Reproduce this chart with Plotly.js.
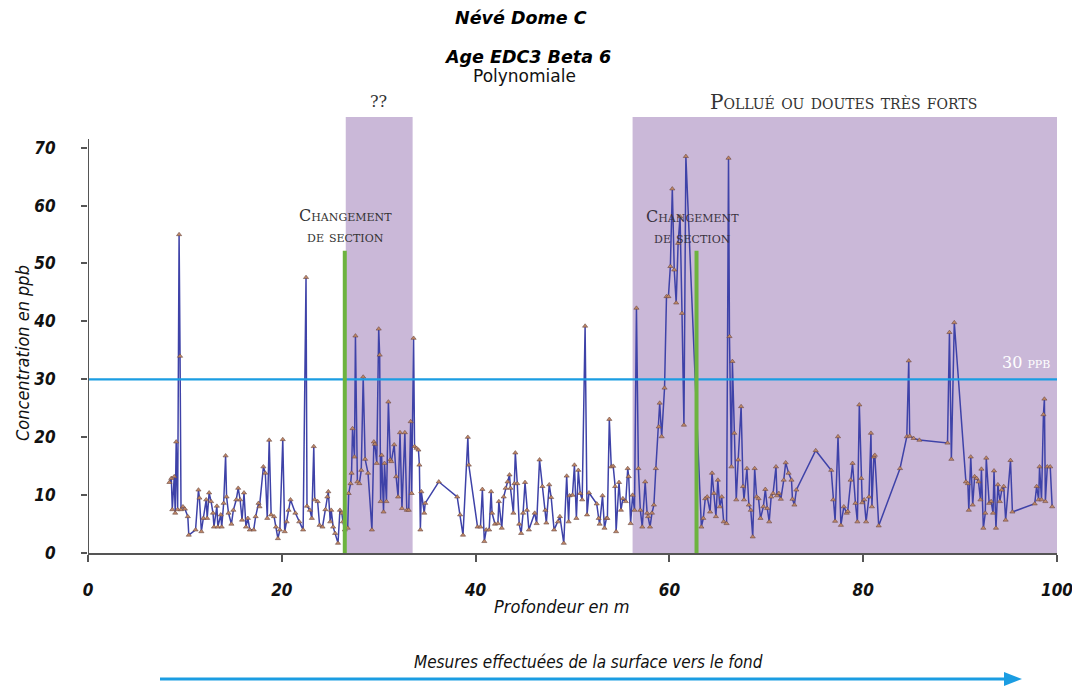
<!DOCTYPE html>
<html>
<head>
<meta charset="utf-8">
<script src="https://cdn.plot.ly/plotly-3.0.1.min.js"></script>
<style>html,body{margin:0;padding:0;background:#fff;}#chart{width:1072px;height:686px;}</style>
</head>
<body>
<div id="chart"></div>
<script>
// Depth (m)
const depth = [
8.4,8.6,8.7,8.9,9.0,9.1,9.25,9.4,9.5,9.6,9.8,10.0,10.3,10.4,11.1,11.4,11.5,11.7,11.9,12.2,
12.3,12.5,12.7,12.9,13.0,13.3,13.4,13.7,13.8,14.0,14.2,14.3,14.5,14.8,15.0,15.3,15.5,15.7,15.9,16.1,
16.3,16.5,16.7,17.1,17.3,17.6,17.7,18.1,18.3,18.5,18.7,18.9,19.2,19.4,19.6,19.8,20.1,20.3,20.5,20.7,
20.9,21.4,21.8,22.2,22.5,22.6,22.9,23.1,23.3,23.4,23.7,23.9,24.2,24.5,24.7,24.8,25.0,25.1,25.3,25.5,
25.8,26.0,26.2,26.3,26.5,26.8,26.9,27.1,27.2,27.3,27.5,27.6,27.8,28.0,28.2,28.4,28.6,28.9,29.3,29.5,
29.6,29.8,30.0,30.1,30.2,30.3,30.5,30.6,30.8,31.0,31.2,31.3,31.6,31.8,32.0,32.2,32.4,32.7,32.9,33.1,
33.3,33.4,33.6,33.7,33.9,34.1,34.2,34.3,34.4,34.7,34.8,36.2,38.1,38.4,38.7,39.2,39.3,40.2,40.5,40.7,
40.9,41.1,41.4,41.6,41.7,42.0,42.3,42.4,42.7,42.9,43.1,43.3,43.5,43.6,43.9,44.0,44.1,44.3,44.5,44.7,
44.9,45.1,45.3,45.5,46.1,46.3,46.6,46.9,47.2,47.3,47.6,47.8,48.1,48.5,48.7,49.1,49.4,49.6,49.7,50.0,
50.2,50.4,50.6,50.8,51.0,51.3,51.5,51.7,52.5,52.7,52.8,53.1,53.3,53.5,53.6,53.8,54.0,54.2,54.4,54.5,
54.8,55.0,55.2,55.5,55.7,55.8,56.0,56.2,56.4,56.6,56.8,57.0,57.2,57.5,57.7,57.8,58.0,58.2,58.4,58.6,
58.9,59.0,59.2,59.5,59.7,59.9,60.1,60.3,60.5,60.7,60.9,61.1,61.3,61.5,61.7,63.3,63.5,63.7,63.9,64.2,
64.4,64.6,64.8,65.0,65.2,65.4,65.6,65.9,66.1,66.2,66.4,66.5,66.7,66.9,67.1,67.4,67.6,67.7,68.0,68.2,
68.4,68.6,68.8,69.0,69.2,69.4,69.7,69.9,70.1,70.3,70.5,70.7,71.0,71.1,71.3,71.5,71.8,72.0,72.3,72.6,
72.7,72.9,73.1,75.1,76.7,76.9,77.1,77.4,77.7,78.0,78.3,78.4,78.7,78.9,79.2,79.4,79.6,79.8,79.9,80.1,
80.3,80.6,80.8,80.9,81.1,81.2,81.6,83.8,84.5,84.7,84.8,85.2,85.8,88.7,88.9,89.1,89.4,90.6,90.8,90.9,
91.1,91.3,91.5,91.7,91.9,92.1,92.2,92.4,92.6,92.7,93.0,93.2,93.4,93.5,93.7,93.9,94.1,94.3,94.5,94.7,
95.2,95.4,97.7,97.9,98.1,98.2,98.4,98.6,98.7,98.8,99.0,99.3,99.5
];
// Concentration (ppb)
const conc = [
12.2,12.9,7.5,13.2,6.9,19.2,7.5,55.0,34.0,7.5,8.0,7.6,6.3,3.1,4.0,10.9,9.5,3.7,6.0,9.2,
6.0,10.4,8.9,6.9,4.5,8.1,4.5,6.6,4.5,8.6,16.8,9.7,6.9,5.0,7.4,9.2,11.2,9.2,5.7,10.4,
4.5,6.0,4.0,4.0,6.3,8.6,8.0,14.9,13.8,6.0,19.5,6.6,6.3,4.5,2.5,4.0,19.6,3.7,5.4,7.4,
9.2,6.9,5.4,4.0,47.6,8.1,7.4,6.0,18.4,9.2,8.9,4.8,4.5,7.5,9.7,10.6,5.4,7.4,4.5,3.4,
1.7,7.4,6.9,5.4,4.0,4.3,10.3,12.0,13.8,21.5,16.6,37.5,12.3,12.0,14.3,30.4,16.2,13.8,4.0,19.2,
18.8,15.5,38.7,34.2,8.9,16.9,7.1,15.5,8.9,26.1,16.1,15.8,18.7,13.2,9.7,20.8,7.7,20.8,7.4,7.4,
22.7,10.3,37.1,18.4,18.1,17.8,15.2,4.0,10.6,6.9,8.6,12.3,9.7,6.6,3.1,20.0,15.2,4.5,4.5,11.0,
2.0,4.0,4.0,10.6,6.9,5.0,5.1,8.9,4.3,9.7,11.2,12.3,13.5,11.2,6.9,12.0,17.3,12.0,5.0,3.4,
6.9,12.2,7.4,4.0,6.9,5.1,16.1,11.5,7.4,5.2,11.8,9.6,4.0,5.4,6.3,1.7,13.3,5.4,9.9,10.0,
15.2,6.0,14.3,10.3,9.2,39.2,6.6,10.4,8.5,6.0,5.0,9.9,4.3,6.0,6.0,23.1,14.9,15.0,11.5,3.7,
12.2,7.4,9.4,8.9,14.6,13.2,5.1,10.0,7.4,42.3,14.6,7.4,4.5,12.3,6.9,6.3,4.5,6.9,8.3,14.6,
21.8,25.9,20.1,28.5,44.3,44.3,49.5,62.9,48.9,43.2,53.5,58.1,41.4,22.1,68.5,4.5,6.0,9.4,9.7,7.1,
13.8,10.3,6.3,12.6,8.0,9.7,5.4,5.1,68.2,37.4,14.9,33.1,20.7,9.2,16.1,25.3,11.5,9.2,14.6,8.3,
7.4,2.8,14.6,9.7,9.4,6.0,8.0,11.0,7.7,5.4,9.7,10.3,14.9,9.9,10.3,9.3,12.6,15.6,13.8,12.6,
9.3,8.3,10.9,17.7,14.3,9.2,5.5,20.1,4.8,8.0,6.9,7.2,12.6,15.5,8.6,5.4,25.6,12.9,8.7,9.2,
5.4,9.7,20.7,8.0,16.6,16.9,4.7,14.6,20.1,33.2,20.2,19.8,19.5,19.0,38.1,16.2,39.8,12.3,12.0,7.4,
16.6,8.3,13.2,12.9,12.3,9.2,14.5,4.3,6.9,16.4,8.6,8.9,6.9,14.2,4.3,11.8,8.9,10.9,11.5,5.7,
16.0,7.1,8.5,11.5,9.2,14.9,9.2,23.9,26.6,8.9,14.9,14.9,8.0
];

const xTicks = [0, 20, 40, 60, 80, 100];
const yTicks = [0, 10, 20, 30, 40, 50, 60, 70];
const threshold = 30;
const shadedZones = [[26.6, 33.5], [56.2, 100]];
const sectionChanges = [26.5, 62.8];

const narrow = '"Liberation Sans Narrow", "DejaVu Sans Condensed", sans-serif';
const tickFont = {family: narrow, size: 17, weight: 'bold', style: 'italic', color: '#111'};
const capFamily = '"DejaVu Serif", "Liberation Serif", serif';

const shapes = [];
shadedZones.forEach(z => shapes.push({type: 'rect', xref: 'x', yref: 'y', x0: z[0], x1: z[1], y0: 0, y1: 75.3, fillcolor: '#cab8d8', line: {width: 0}, layer: 'below'}));
shapes.push({type: 'line', xref: 'x', yref: 'y', x0: 0, x1: 100, y0: threshold, y1: threshold, line: {color: '#1b9de2', width: 2.2}, layer: 'above'});
sectionChanges.forEach(s => shapes.push({type: 'line', xref: 'x', yref: 'y', x0: s, x1: s, y0: 0, y1: 52.2, line: {color: '#6db33f', width: 4}, layer: 'above'}));
shapes.push({type: 'line', xref: 'x', yref: 'y', x0: 0, x1: 0, y0: 0, y1: 71.5, line: {color: '#555', width: 2}, layer: 'above'});

const px = v => (v - 88) / 969;
const py = v => (553 - v) / 436;

// bottom arrow
shapes.push({type: 'line', xref: 'paper', yref: 'paper', x0: px(160), x1: px(1008), y0: py(679), y1: py(679), line: {color: '#1b9de2', width: 3}});
shapes.push({type: 'path', xref: 'paper', yref: 'paper',
  path: 'M ' + px(1022) + ' ' + py(679) + ' L ' + px(1004) + ' ' + py(672) + ' L ' + px(1004) + ' ' + py(686) + ' Z',
  fillcolor: '#1b9de2', line: {width: 0}});

function ann(text, x, y, font, extra) {
  return Object.assign({text: text, x: px(x), y: py(y), xref: 'paper', yref: 'paper', showarrow: false,
    xanchor: 'center', yanchor: 'middle', font: font}, extra || {});
}

const titleFont = {family: '"DejaVu Sans", Verdana, sans-serif', size: 17.5, weight: 'bold', style: 'italic', color: '#000'};
const annotations = [
  ann('Névé Dome C', 521, 18, titleFont),
  ann('Age EDC3 Beta 6', 527, 57, titleFont),
  ann('Polynomiale', 524, 76, {family: '"DejaVu Sans", sans-serif', size: 17, color: '#111'}),
  ann('??', 378, 102, {family: capFamily, size: 16, variant: 'small-caps', color: '#333'}),
  ann('Pollué ou doutes très forts', 843, 102, {family: capFamily, size: 20, variant: 'small-caps', color: '#333'}),
  ann('Changement<br>de section', 345, 226, {family: capFamily, size: 16, variant: 'small-caps', color: '#333'}),
  ann('Changement<br>de section', 692, 227, {family: capFamily, size: 16, variant: 'small-caps', color: '#3a3340'}),
  ann('30 ppb', 1026, 362, {family: capFamily, size: 16, variant: 'small-caps', color: '#ffffff'}),
  ann('Profondeur en m', 562, 606, {family: narrow, size: 18, style: 'italic', color: '#111'}),
  ann('Concentration en ppb', 22, 353, {family: narrow, size: 18, style: 'italic', color: '#111'}, {textangle: -90}),
  ann('Mesures effectuées de la surface vers le fond', 588, 662, {family: narrow, size: 17, style: 'italic', color: '#111'})
];

const trace = {
  x: depth, y: conc, type: 'scatter', mode: 'lines+markers',
  line: {color: '#3e42a8', width: 1.5},
  marker: {symbol: 'triangle-up', size: 4.5, color: '#c08866', line: {color: '#6b4a44', width: 0.6}},
  hoverinfo: 'x+y'
};

const layout = {
  width: 1072, height: 686,
  margin: {l: 88, r: 15, t: 117, b: 133},
  paper_bgcolor: '#fff', plot_bgcolor: 'rgba(0,0,0,0)',
  showlegend: false,
  xaxis: {range: [0, 100], tickvals: xTicks, ticktext: xTicks.map(String), showgrid: false, zeroline: false,
    showline: true, linecolor: '#555', linewidth: 2, ticks: 'outside', ticklen: 7, tickwidth: 2, tickcolor: '#555',
    tickfont: tickFont, ticklabelstandoff: 14, ticklabeloverflow: 'allow'},
  yaxis: {range: [0, 75.3], tickvals: yTicks, ticktext: yTicks.map(String), showgrid: false, zeroline: false,
    showline: false, ticks: 'outside', ticklen: 6, tickwidth: 2, tickcolor: '#555',
    tickfont: tickFont, ticklabelstandoff: 22},
  shapes: shapes,
  annotations: annotations
};

Plotly.newPlot('chart', [trace], layout, {displayModeBar: false, staticPlot: true});
</script>
</body>
</html>
